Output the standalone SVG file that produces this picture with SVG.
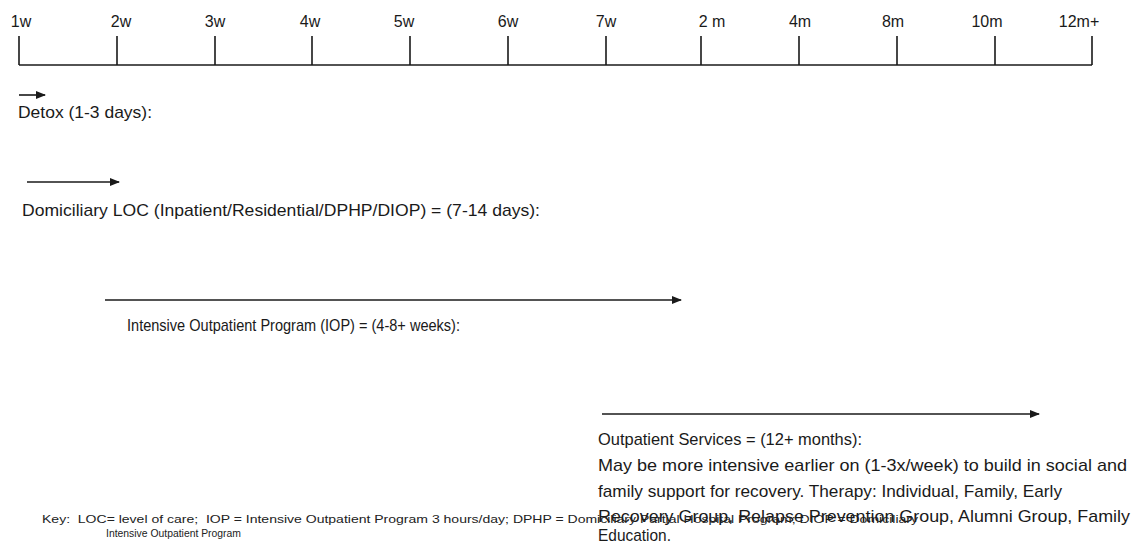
<svg xmlns="http://www.w3.org/2000/svg" width="1139" height="545" viewBox="0 0 1139 545">
<defs>
<style>
.t{font-family:"Liberation Sans",Arial,sans-serif;fill:#1a1a1a}
.lab{font-size:16px}
.body{font-size:17px}
.key{font-size:11.5px;fill:#222}
.axis{stroke:#1a1a1a;stroke-width:1.6;fill:none}
.arr{stroke:#1a1a1a;stroke-width:1.6;fill:none;marker-end:url(#ah)}
</style>
<marker id="ah" markerWidth="10" markerHeight="8" refX="9" refY="4" orient="auto" markerUnits="userSpaceOnUse">
<path d="M0,0 L10,4 L0,8 Z" fill="#1a1a1a"/>
</marker>
</defs>
<rect width="1139" height="545" fill="#fff"/>
<g id="timeline">
<line class="axis" x1="19" y1="65" x2="1092" y2="65"/>
<path class="axis" d="M19,36V65 M117,36V65 M215,36V65 M312,36V65 M410,36V65 M508,36V65 M606,36V65 M701,36V65 M799,36V65 M897,36V65 M995,36V65 M1092,36V65"/>
<g class="t lab" text-anchor="middle">
<text x="21" y="27">1w</text>
<text x="121" y="27">2w</text>
<text x="215" y="27">3w</text>
<text x="310" y="27">4w</text>
<text x="404" y="27">5w</text>
<text x="508" y="27">6w</text>
<text x="606" y="27">7w</text>
<text x="712" y="27">2 m</text>
<text x="800" y="27">4m</text>
<text x="893" y="27">8m</text>
<text x="987" y="27">10m</text>
<text x="1079" y="27">12m+</text>
</g>
</g>
<g id="connectors">
<line class="arr" x1="19" y1="95" x2="45" y2="95"/>
<line class="arr" x1="27" y1="182" x2="119" y2="182"/>
<line class="arr" x1="105" y1="300" x2="681" y2="300"/>
<line class="arr" x1="602" y1="414" x2="1039" y2="414"/>
</g>
<g id="detox">
<text class="t body" x="18" y="118" textLength="134" lengthAdjust="spacingAndGlyphs">Detox (1-3 days):</text>
</g>
<g id="domiciliary">
<text class="t body" x="22" y="216" textLength="518" lengthAdjust="spacingAndGlyphs">Domiciliary LOC (Inpatient/Residential/DPHP/DIOP) = (7-14 days):</text>
</g>
<g id="iop">
<text class="t body" x="127" y="331" textLength="333" lengthAdjust="spacingAndGlyphs">Intensive Outpatient Program (IOP) = (4-8+ weeks):</text>
</g>
<g id="outpatient">
<text class="t body" x="598" y="445" textLength="264" lengthAdjust="spacingAndGlyphs">Outpatient Services = (12+ months):</text>
<text class="t body" x="598" y="471" textLength="529" lengthAdjust="spacingAndGlyphs">May be more intensive earlier on (1-3x/week) to build in social and</text>
<text class="t body" x="598" y="497" textLength="464" lengthAdjust="spacingAndGlyphs">family support for recovery. Therapy: Individual, Family, Early</text>
<text class="t body" x="598" y="522" textLength="532" lengthAdjust="spacingAndGlyphs">Recovery Group, Relapse Prevention Group, Alumni Group, Family</text>
<text class="t body" x="598" y="541" textLength="73" lengthAdjust="spacingAndGlyphs">Education.</text>
</g>
<g id="key">
<text class="t key" x="42" y="523" textLength="876" lengthAdjust="spacingAndGlyphs" xml:space="preserve">Key:  LOC= level of care;  IOP = Intensive Outpatient Program 3 hours/day; DPHP = Domiciliary Partial Hospital Program; DIOP = Domiciliary</text>
<text class="t key" x="106" y="537" textLength="135" lengthAdjust="spacingAndGlyphs">Intensive Outpatient Program</text>
</g>
</svg>
